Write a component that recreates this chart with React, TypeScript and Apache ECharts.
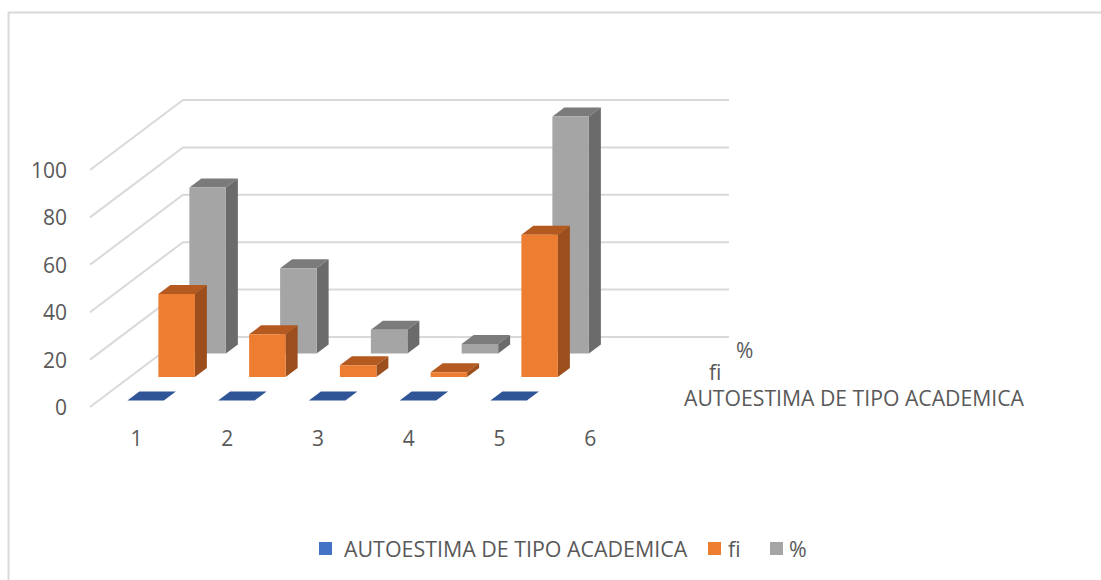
import React, { useEffect, useRef } from "react";
import * as echarts from "echarts";

const categories = ["1", "2", "3", "4", "5", "6"];
const axisTicks = [0, 20, 40, 60, 80, 100];
const academicValues = [0, 0, 0, 0, 0];
const fiValues = [35, 18, 5, 2, 60];
const percentValues = [70, 36, 10, 4, 100];
const seriesNames = ["AUTOESTIMA DE TIPO ACADEMICA", "fi", "%"];
const legendColors = ["#4472C4", "#ED7D31", "#A5A5A5"];
const frontColors = ["#4472C4", "#ED7D31", "#A5A5A5"];
const topColors = ["#2F5597", "#B45A20", "#7B7B7B"];
const sideColors = ["#264478", "#9C4F1C", "#6B6B6B"];

const FONT = "'Open Sans', sans-serif";
const FONT_SIZE = 21;
const NAME_SIZE = 21.2;
const LEGEND_SIZE = 21.4;
const TEXT = "#595959";
const LINE = "#D9D9D9";
const WALL_DX = 93;
const WALL_DY = -70;
const ROW_DX = 31;
const ROW_DY = -23.5;
const BAR_W = 36.5;
const BAR_DX = 12;
const BAR_DY = -9;

function barSeries(row: number, values: number[]) {
  return {
    type: "custom",
    name: seriesNames[row],
    z: 5 - row,
    itemStyle: { color: legendColors[row] },
    data: values.map((v, i) => [i, v]),
    encode: { x: 0, y: 1 },
    renderItem: (_p: any, api: any) => {
      const base = api.coord([api.value(0), 0]);
      const h = api.size([0, api.value(1)])[1];
      const x = base[0] - 8 + row * ROW_DX;
      const y = base[1] - 6.5 + row * ROW_DY;
      const t = y - h;
      const children: any[] = [
        {
          type: "polygon",
          shape: { points: [[x, t], [x + BAR_W, t], [x + BAR_W + BAR_DX, t + BAR_DY], [x + BAR_DX, t + BAR_DY]] },
          style: { fill: topColors[row] },
        },
      ];
      if (h > 0) {
        children.push(
          {
            type: "polygon",
            shape: { points: [[x + BAR_W, y], [x + BAR_W + BAR_DX, y + BAR_DY], [x + BAR_W + BAR_DX, t + BAR_DY], [x + BAR_W, t]] },
            style: { fill: sideColors[row] },
          },
          {
            type: "rect",
            shape: { x, y: t, width: BAR_W, height: h },
            style: { fill: frontColors[row] },
          }
        );
      }
      return { type: "group", children };
    },
  };
}

const wallSeries = {
  type: "custom",
  silent: true,
  z: 1,
  data: axisTicks.map((t) => [0, t]),
  encode: { x: 0, y: 1 },
  renderItem: (p: any, api: any) => {
    const y = api.coord([0, api.value(1)])[1];
    const left = p.coordSys.x;
    const right = left + p.coordSys.width;
    return {
      type: "polyline",
      shape: {
        points: [
          [left, y],
          [left + WALL_DX, y + WALL_DY],
          [right + WALL_DX + 1.5, y + WALL_DY],
        ],
      },
      style: { stroke: LINE, lineWidth: 2, fill: "none" },
    };
  },
};

const legendItem = (name: string, left: number, gap: number) => ({
  left,
  top: 533,
  data: [name],
  itemWidth: 13,
  itemHeight: 13,
  icon: "rect",
  textStyle: { color: TEXT, fontSize: LEGEND_SIZE, fontFamily: FONT, padding: [0, 0, 0, gap] },
});

export default function App() {
  const ref = useRef<HTMLDivElement>(null);
  useEffect(() => {
    const chart = echarts.init(ref.current!, undefined, { renderer: "svg" });
    chart.setOption({
      animation: false,
      backgroundColor: "#fff",
      textStyle: { fontFamily: FONT },
      grid: { left: 90, top: 170, width: 544.5, height: 237, containLabel: false },
      xAxis: {
        type: "category",
        data: categories,
        axisLine: { show: false },
        axisTick: { show: false },
        axisLabel: { color: TEXT, fontSize: FONT_SIZE, fontFamily: FONT, margin: 20, padding: [0, 0, 0, 2] },
      },
      yAxis: {
        type: "value",
        min: 0,
        max: 100,
        interval: 20,
        axisLine: { show: false },
        axisTick: { show: false },
        splitLine: { show: false },
        axisLabel: { color: TEXT, fontSize: FONT_SIZE, fontFamily: FONT, margin: 23, padding: [3, 0, 0, 0] },
      },
      legend: [
        legendItem(seriesNames[0], 314, 7),
        legendItem(seriesNames[1], 703, 2),
        legendItem(seriesNames[2], 765, 1),
      ],
      graphic: [
        {
          type: "polyline",
          shape: { points: [[8.5, 580], [8.5, 12.5], [1101, 12.5]] },
          style: { stroke: LINE, lineWidth: 2, fill: "none" },
          silent: true,
        },
        { type: "text", x: 736, y: 339, style: { text: seriesNames[2], fill: TEXT, fontSize: FONT_SIZE, fontFamily: FONT } },
        { type: "text", x: 709, y: 361, style: { text: seriesNames[1], fill: TEXT, fontSize: FONT_SIZE, fontFamily: FONT } },
        { type: "text", x: 684, y: 387, style: { text: seriesNames[0], fill: TEXT, fontSize: NAME_SIZE, fontFamily: FONT } },
      ],
      series: [wallSeries, barSeries(2, percentValues), barSeries(1, fiValues), barSeries(0, academicValues)],
    });
    return () => chart.dispose();
  }, []);
  return <div ref={ref} style={{ position: "fixed", left: 0, top: 0, width: 1101, height: 580 }} />;
}
